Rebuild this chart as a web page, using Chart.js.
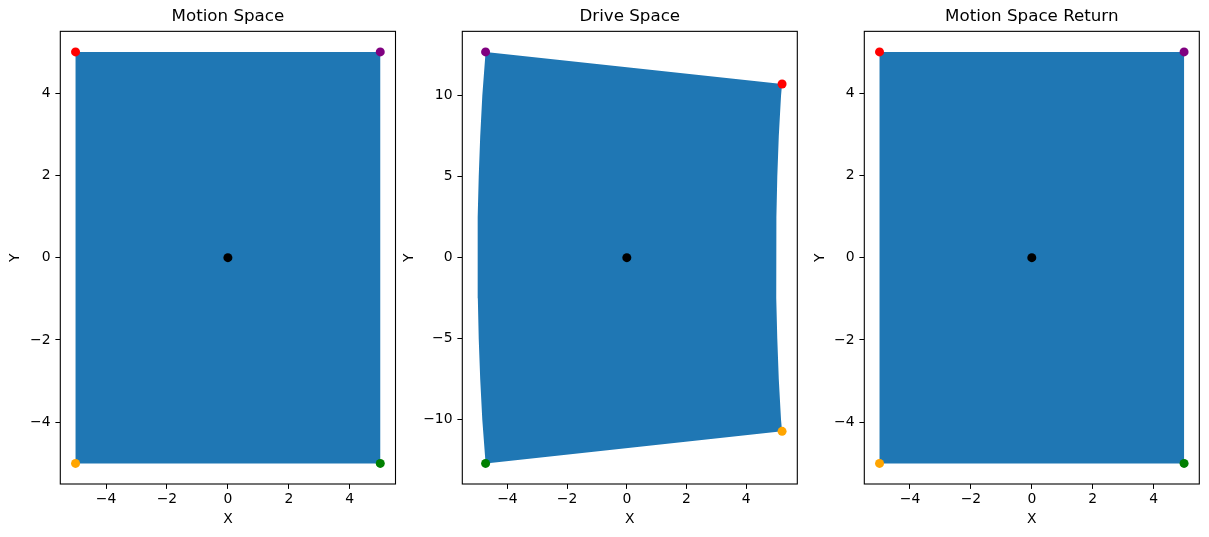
<!DOCTYPE html>
<html>
<head>
<meta charset="utf-8">
<script src="https://cdn.jsdelivr.net/npm/chart.js@4.4.0/dist/chart.umd.min.js"></script>
<style>
  html, body { margin: 0; padding: 0; background: #fff; }
  #wrap { position: relative; width: 1209px; height: 537px; overflow: hidden; }
  canvas { position: absolute; top: 0; }
</style>
</head>
<body>
<div id="wrap">
  <canvas id="motion" width="400" height="537" style="left:0px"></canvas>
  <canvas id="drive" width="410" height="537" style="left:400px"></canvas>
  <canvas id="motionReturn" width="399" height="537" style="left:810px"></canvas>
</div>
<script>
// square in motion space, corners in drawing order
const motionX = [-5, 5, 5, -5];
const motionY = [5, 5, -5, -5];

// drive space outline: top edge, right edge going down, bottom edge, left edge going up
const driveX = [-4.73, 5.2, 5.165, 5.09, 5.04, 5.01, 5.0, 5.01, 5.04, 5.09, 5.165, 5.2,
  -4.73, -4.84, -4.91, -4.96, -4.99, -5.0, -4.99, -4.96, -4.91, -4.84];
const driveY = [12.7, 10.72, 10, 7.5, 5, 2.5, 0, -2.5, -5, -7.5, -10, -10.72,
  -12.7, -10, -7.5, -5, -2.5, 0, 2.5, 5, 7.5, 10];

// marked points: red, purple, green, orange corners and the centre
const markColors = ['red', 'purple', 'green', 'orange', 'black'];
const motionMarkX = [-5, 5, 5, -5, 0];
const motionMarkY = [5, 5, -5, -5, 0];
const driveMarkX = [5.2, -4.73, -4.73, 5.2, 0];
const driveMarkY = [10.72, 12.7, -12.7, -10.72, 0];

// tick values
const squareTicks = [-4, -2, 0, 2, 4];
const driveXTicks = [-4, -2, 0, 2, 4];
const driveYTicks = [-10, -5, 0, 5, 10];

Chart.defaults.font.family = '"DejaVu Sans", sans-serif';
Chart.defaults.color = '#000';

const fmt = (v) => String(v).replace('-', '\u2212');

// matplotlib style 5% margins
const limits = (vals) => {
  const lo = Math.min(...vals);
  const hi = Math.max(...vals);
  const m = (hi - lo) * 0.05;
  return [lo - m, hi + m];
};

//axes frame
const framePlugin = {
  id: 'frame',
  afterDatasetsDraw(chart) {
    const { ctx, chartArea: a } = chart;
    ctx.save();
    ctx.strokeStyle = '#000';
    ctx.lineWidth = 1.1;
    ctx.strokeRect(a.left, a.top, a.right - a.left, a.bottom - a.top);
    ctx.restore();
  },
};

const tickFont = { size: 13.9 };

const makePanel = (id, title, polyX, polyY, markX, markY, xTicks, yTicks, box) => {
  const [xMin, xMax] = limits(polyX.concat(markX));
  const [yMin, yMax] = limits(polyY.concat(markY));

  const datasets = markX.map((x, i) => ({
    data: [{ x, y: markY[i] }],
    backgroundColor: markColors[i],
    borderWidth: 0,
    pointRadius: 4.5,
  }));

  datasets.push({
    data: polyX.map((x, i) => ({ x, y: polyY[i] })),
    showLine: true,
    fill: 'shape',
    backgroundColor: '#1f77b4',
    borderColor: '#1f77b4',
    borderWidth: 0,
    pointRadius: 0,
  });

  new Chart(document.getElementById(id), {
    type: 'scatter',
    data: { datasets },
    plugins: [framePlugin],
    options: {
      responsive: false,
      animation: false,
      events: [],
      layout: { padding: { left: 0, right: box.right, top: 0, bottom: 0 } },
      plugins: {
        legend: { display: false },
        tooltip: { enabled: false },
        title: {
          display: true,
          text: title,
          fullSize: false,
          color: '#000',
          font: { size: 16.7, weight: 'normal' },
          padding: { top: 7.1, bottom: 4.2 },
        },
      },
      scales: {
        x: {
          type: 'linear',
          min: xMin,
          max: xMax,
          afterBuildTicks: (s) => { s.ticks = xTicks.map((v) => ({ value: v })); },
          afterFit: (s) => { s.height = 53; },
          grid: { drawOnChartArea: false, drawTicks: true, tickLength: 4.9, color: '#000', lineWidth: 1 },
          border: { display: false },
          ticks: { color: '#000', padding: 2.3, font: tickFont, maxRotation: 0, autoSkip: false, callback: fmt },
          title: { display: true, text: 'X', color: '#000', font: tickFont, padding: { top: 0, bottom: 9.5 } },
        },
        y: {
          type: 'linear',
          min: yMin,
          max: yMax,
          afterBuildTicks: (s) => { s.ticks = yTicks.map((v) => ({ value: v })); },
          afterFit: (s) => { s.width = box.yWidth; },
          grid: { drawOnChartArea: false, drawTicks: true, tickLength: 4.9, color: '#000', lineWidth: 1 },
          border: { display: false },
          ticks: { color: '#000', padding: 4.9, font: tickFont, autoSkip: false, callback: fmt },
          title: { display: true, text: 'Y', color: '#000', font: tickFont, padding: { top: box.yTitle, bottom: 0 } },
        },
      },
    },
  });
};

makePanel('motion', 'Motion Space', motionX, motionY, motionMarkX, motionMarkY,
  squareTicks, squareTicks, { yWidth: 60.3, right: 4.3, yTitle: 7.2 });
makePanel('drive', 'Drive Space', driveX, driveY, driveMarkX, driveMarkY,
  driveXTicks, driveYTicks, { yWidth: 62.3, right: 12.7, yTitle: 0.6 });
makePanel('motionReturn', 'Motion Space Return', motionX, motionY, motionMarkX, motionMarkY,
  squareTicks, squareTicks, { yWidth: 54.3, right: 9.7, yTitle: 1.9 });
</script>
</body>
</html>
